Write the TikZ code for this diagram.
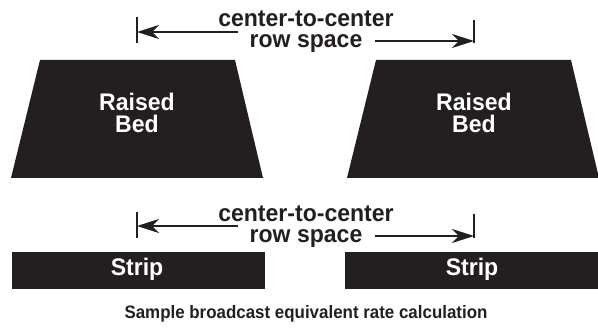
\documentclass[tikz,border=0pt]{standalone}
\usepackage{fontspec}
\setmainfont{Liberation Sans}
\usetikzlibrary{arrows.meta}
\definecolor{ink}{HTML}{231F20}
\newcommand{\narrow}[1]{\scalebox{0.96}[1]{#1}}
\newcommand{\narrowcap}[1]{\scalebox{0.94}[1]{#1}}
\begin{document}
\begin{tikzpicture}[x=1pt,y=-1pt,
  block/.style={fill=ink, draw=none},
  lab/.style={font=\fontsize{24}{24}\selectfont\bfseries, text=ink, inner sep=0pt, anchor=base},
  wlab/.style={lab, text=white},
  captxt/.style={font=\fontsize{18}{18}\selectfont\bfseries, text=ink, inner sep=0pt, anchor=base},
  arr/.style={draw=ink, line width=2.4pt, -{Stealth[length=22pt,width=14pt,inset=7pt]}},
  endbar/.style={draw=ink, line width=1.6pt}]
\useasboundingbox (0,0) rectangle (598,328);
% raised beds
\path[block] (40,60) -- (235,60) -- (263,178) -- (11,178) -- cycle;
\path[block] (376,60) -- (571,60) -- (599,178) -- (347,178) -- cycle;
% strips
\path[block] (12,252) rectangle (265,289);
\path[block] (345,252) rectangle (598,289);
% bed and strip labels
\node[wlab] (rb1) at (137,111) {\narrow{Raised}};
\node[wlab] (bd1) at (137,133) {\narrow{Bed}};
\node[wlab] (rb2) at (474,111) {\narrow{Raised}};
\node[wlab] (bd2) at (474,133) {\narrow{Bed}};
\node[wlab] (s1) at (137,276) {\narrow{Strip}};
\node[wlab] (s2) at (472,276) {\narrow{Strip}};
% top dimension
\node[lab] (ta) at (306,27) {\narrow{center-to-center}};
\node[lab] (tb) at (306,48) {\narrow{row space}};
\coordinate (tl1) at (137,17); \coordinate (tl2) at (137,43);
\coordinate (tr1) at (474,20); \coordinate (tr2) at (474,43);
\draw[endbar] (tl1) -- (tl2);
\draw[endbar] (tr1) -- (tr2);
\coordinate (tls) at (238,32); \coordinate (tlt) at (137,32);
\coordinate (trs) at (375,41); \coordinate (trt) at (474,41);
\draw[arr] (tls) -- (tlt);
\draw[arr] (trs) -- (trt);
% bottom dimension
\node[lab] (ba) at (306,222) {\narrow{center-to-center}};
\node[lab] (bb) at (306,243) {\narrow{row space}};
\coordinate (bl1) at (137,212); \coordinate (bl2) at (137,238);
\coordinate (br1) at (474,214); \coordinate (br2) at (474,238);
\draw[endbar] (bl1) -- (bl2);
\draw[endbar] (br1) -- (br2);
\coordinate (bls) at (238,226); \coordinate (blt) at (137,226);
\coordinate (brs) at (375,236); \coordinate (brt) at (474,236);
\draw[arr] (bls) -- (blt);
\draw[arr] (brs) -- (brt);
% caption
\node[captxt] (caption) at (306,319) {\narrowcap{Sample broadcast equivalent rate calculation}};
\end{tikzpicture}
\end{document}
